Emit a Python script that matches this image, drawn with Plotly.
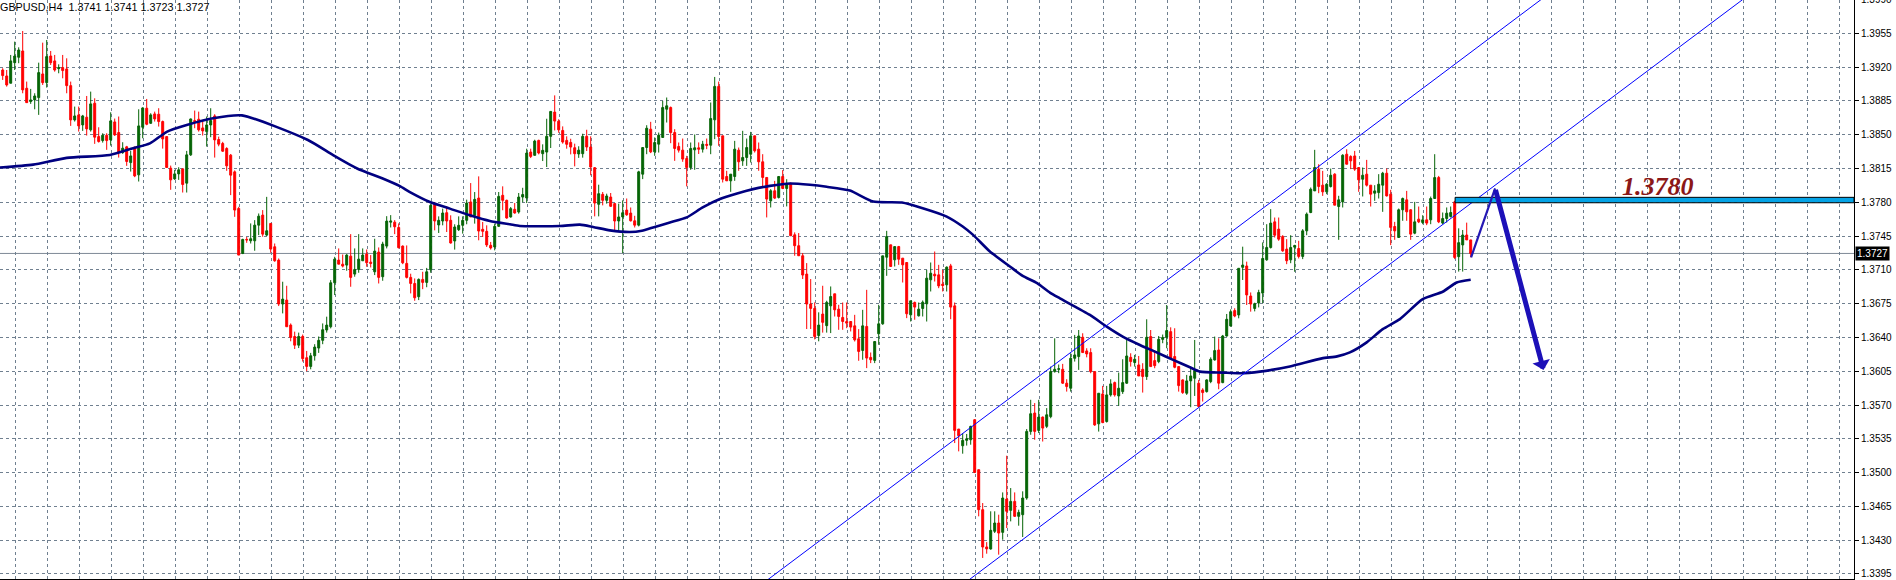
import plotly.graph_objects as go

# ---------------- data (GBPUSD H4 candles) ----------------
opens = [
1.39170,1.39108,1.39033,1.39246,1.39302,1.39367,1.38981,1.38843,1.38860,1.38884,
1.39129,1.39039,1.39315,1.39264,1.39184,1.39195,1.39181,1.39008,1.38653,1.38705,
1.38601,1.38681,1.38550,1.38826,1.38480,1.38439,1.38494,1.38446,1.38632,1.38522,
1.38315,1.38374,1.38211,1.38370,1.38084,1.38577,1.38774,1.38618,1.38715,1.38712,
1.38636,1.38480,1.38153,1.38042,1.38094,1.38146,1.37998,1.38291,1.38646,1.38660,
1.38570,1.38532,1.38601,1.38694,1.38450,1.38409,1.38357,1.38288,1.38115,1.37736,
1.37270,1.37415,1.37401,1.37401,1.37563,1.37667,1.37460,1.37581,1.37339,1.37201,
1.36746,1.36787,1.36528,1.36410,1.36320,1.36410,1.36190,1.36100,1.36210,1.36290,
1.36370,1.36477,1.36511,1.36966,1.37201,1.37159,1.37149,1.37242,1.37056,1.37104,
1.37194,1.37263,1.37180,1.37080,1.37284,1.37029,1.37346,1.37594,1.37594,1.37539,
1.37346,1.37167,1.37022,1.36959,1.36822,1.37001,1.36970,1.37100,1.37779,1.37565,
1.37606,1.37692,1.37613,1.37399,1.37516,1.37561,1.37613,1.37803,1.37665,1.37844,
1.37520,1.37499,1.37354,1.37337,1.37551,1.37872,1.37820,1.37648,1.37727,1.37699,
1.37854,1.37844,1.38320,1.38286,1.38441,1.38303,1.38320,1.38483,1.38734,1.38640,
1.38544,1.38441,1.38420,1.38365,1.38300,1.38303,1.38483,1.38372,1.38158,1.37779,
1.37882,1.37820,1.37854,1.37786,1.37606,1.37648,1.37719,1.37688,1.37608,1.37563,
1.38091,1.38367,1.38557,1.38322,1.38402,1.38471,1.38764,1.38781,1.38522,1.38378,
1.38340,1.38253,1.38160,1.38343,1.38364,1.38350,1.38400,1.38391,1.38654,1.39000,
1.38488,1.38067,1.38022,1.38067,1.38340,1.38229,1.38264,1.38298,1.38488,1.38350,
1.38219,1.38057,1.37815,1.37919,1.37850,1.38067,1.37943,1.37995,1.37463,1.37350,
1.37246,1.37056,1.36746,1.36701,1.36420,1.36642,1.36522,1.36727,1.36852,1.36693,
1.36607,1.36565,1.36565,1.36520,1.36386,1.36265,1.36514,1.36193,1.36162,1.36438,
1.36541,1.37231,1.37359,1.37204,1.37341,1.37221,1.37176,1.36634,1.36762,1.36624,
1.36700,1.36748,1.36997,1.37055,1.37048,1.36952,1.36945,1.37141,1.36727,1.35451,
1.35278,1.35334,1.35340,1.35548,1.35030,1.34616,1.34230,1.34209,1.34392,1.34478,
1.34381,1.34726,1.34609,1.34702,1.34547,1.34564,1.34737,1.35427,1.35617,1.35437,
1.35575,1.35479,1.35580,1.36046,1.36070,1.36070,1.35926,1.35874,1.36184,1.36202,
1.36402,1.36260,1.36243,1.36046,1.35505,1.35815,1.35529,1.35805,1.35932,1.35794,
1.35839,1.35926,1.36194,1.36140,1.36115,1.36070,1.35995,1.36409,1.36160,1.36150,
1.36380,1.36402,1.36460,1.36202,1.36098,1.35960,1.35822,1.35950,1.35977,1.35926,
1.35856,1.35839,1.35943,1.36167,1.36270,1.35932,1.36415,1.36519,1.36678,1.36633,
1.37126,1.37140,1.36829,1.36700,1.36756,1.36859,1.37204,1.37332,1.37597,1.37522,
1.37446,1.37315,1.37204,1.37335,1.37321,1.37239,1.37504,1.37694,1.37918,1.38143,
1.37977,1.37908,1.37963,1.38091,1.37756,1.37804,1.38298,1.38274,1.38280,1.38160,
1.38039,1.38091,1.37977,1.37894,1.37900,1.37977,1.38101,1.37884,1.37549,1.37435,
1.37722,1.37825,1.37722,1.37480,1.37625,1.37590,1.37618,1.37618,1.37839,1.38056,
1.37584,1.37632,1.37653,1.37804,1.37237,1.37358,1.37461,1.37410]

highs = [
1.39188,1.39170,1.39326,1.39464,1.39405,1.39574,1.39050,1.38974,1.38929,1.39246,
1.39453,1.39481,1.39367,1.39326,1.39229,1.39326,1.39291,1.39050,1.38791,1.38791,
1.38705,1.38901,1.38946,1.38877,1.38577,1.38515,1.38515,1.38732,1.38667,1.38688,
1.38422,1.38384,1.38332,1.38377,1.38763,1.38784,1.38870,1.38722,1.38739,1.38774,
1.38646,1.38480,1.38180,1.38136,1.38163,1.38146,1.38332,1.38667,1.38750,1.38739,
1.38646,1.38688,1.38774,1.38712,1.38480,1.38426,1.38370,1.38300,1.38130,1.37753,
1.37422,1.37440,1.37581,1.37615,1.37684,1.37719,1.37856,1.37581,1.37373,1.37218,
1.36977,1.36935,1.36545,1.36460,1.36450,1.36430,1.36260,1.36240,1.36330,1.36410,
1.36545,1.36615,1.36994,1.37235,1.37322,1.37259,1.37263,1.37470,1.37322,1.37470,
1.37322,1.37311,1.37253,1.37422,1.37332,1.37391,1.37656,1.37667,1.37615,1.37581,
1.37353,1.37353,1.37060,1.37011,1.37011,1.37080,1.37120,1.37786,1.37803,1.37654,
1.37734,1.37758,1.37665,1.37572,1.37654,1.37654,1.37827,1.37999,1.37906,1.38068,
1.37596,1.37561,1.37389,1.37579,1.37906,1.37965,1.37827,1.37751,1.37792,1.37896,
1.37950,1.38355,1.38355,1.38448,1.38448,1.38400,1.38665,1.38741,1.38907,1.38660,
1.38586,1.38483,1.38458,1.38407,1.38380,1.38510,1.38551,1.38483,1.38165,1.37982,
1.37906,1.37889,1.37896,1.37792,1.37786,1.37820,1.37839,1.37746,1.37660,1.38126,
1.38367,1.38598,1.38633,1.38471,1.38522,1.38850,1.38885,1.38792,1.38557,1.38419,
1.38460,1.38281,1.38419,1.38502,1.38420,1.38436,1.38460,1.38833,1.39098,1.39050,
1.38488,1.38126,1.38091,1.38436,1.38367,1.38540,1.38460,1.38529,1.38488,1.38419,
1.38298,1.38057,1.37936,1.38022,1.38067,1.38133,1.38039,1.38005,1.37488,1.37481,
1.37274,1.37170,1.37005,1.36763,1.36660,1.36935,1.36780,1.36928,1.36852,1.36738,
1.36762,1.36762,1.36565,1.36634,1.36486,1.36686,1.36893,1.36244,1.36358,1.36738,
1.37245,1.37504,1.37359,1.37341,1.37348,1.37221,1.37176,1.36779,1.36772,1.36762,
1.36783,1.37100,1.37176,1.37290,1.37152,1.37100,1.37135,1.37162,1.36762,1.35451,
1.35410,1.35400,1.35485,1.35554,1.35030,1.34685,1.34280,1.34599,1.34599,1.34564,
1.34795,1.35175,1.34840,1.34795,1.34616,1.34806,1.35451,1.35754,1.35720,1.35754,
1.35581,1.35668,1.36098,1.36391,1.36120,1.36126,1.35967,1.36236,1.36426,1.36477,
1.36443,1.36288,1.36288,1.36046,1.35822,1.35898,1.35898,1.35967,1.35943,1.36036,
1.36174,1.36381,1.36236,1.36219,1.36208,1.36133,1.36588,1.36477,1.36270,1.36415,
1.36430,1.36736,1.36505,1.36495,1.36098,1.35967,1.36012,1.36098,1.36374,1.35960,
1.35874,1.35967,1.36194,1.36409,1.36391,1.36426,1.36643,1.36691,1.36702,1.37116,
1.37340,1.37185,1.36866,1.36760,1.36894,1.37384,1.37573,1.37729,1.37642,1.37642,
1.37459,1.37418,1.37459,1.37360,1.37401,1.37522,1.37694,1.37953,1.38343,1.38194,
1.38125,1.37998,1.38149,1.38101,1.37867,1.38298,1.38349,1.38287,1.38332,1.38160,
1.38160,1.38239,1.37977,1.37977,1.38091,1.38115,1.38149,1.37929,1.37597,1.37735,
1.37849,1.37918,1.37728,1.37804,1.37756,1.37666,1.37756,1.37859,1.38298,1.38073,
1.37694,1.37746,1.37756,1.37815,1.37530,1.37513,1.37589,1.37410]

lows = [
1.39067,1.38998,1.39033,1.39170,1.39240,1.38929,1.38832,1.38819,1.38763,1.38705,
1.39015,1.38988,1.39222,1.39153,1.39136,1.39084,1.38929,1.38591,1.38636,1.38532,
1.38539,1.38491,1.38532,1.38405,1.38418,1.38418,1.38343,1.38387,1.38487,1.38263,
1.38301,1.38177,1.38118,1.38060,1.38015,1.38463,1.38598,1.38612,1.38636,1.38584,
1.38356,1.38160,1.37929,1.38032,1.38032,1.37901,1.37901,1.38280,1.38567,1.38532,
1.38491,1.38377,1.38474,1.38263,1.38380,1.38322,1.38126,1.37874,1.37649,1.37253,
1.37263,1.37380,1.37373,1.37298,1.37460,1.37443,1.37450,1.37277,1.37184,1.36725,
1.36649,1.36511,1.36360,1.36280,1.36290,1.36150,1.36050,1.36070,1.36160,1.36240,
1.36330,1.36450,1.36494,1.36839,1.37159,1.37125,1.37091,1.36925,1.37029,1.37070,
1.37194,1.37132,1.37125,1.37046,1.36959,1.36987,1.37322,1.37539,1.37470,1.37322,
1.37159,1.37011,1.36856,1.36780,1.36787,1.36900,1.36920,1.37070,1.37509,1.37482,
1.37561,1.37492,1.37372,1.37310,1.37502,1.37475,1.37572,1.37648,1.37579,1.37406,
1.37441,1.37337,1.37310,1.37302,1.37544,1.37717,1.37630,1.37641,1.37682,1.37682,
1.37800,1.37792,1.38258,1.38286,1.38296,1.38227,1.38165,1.38362,1.38544,1.38520,
1.38407,1.38355,1.38296,1.38172,1.38260,1.38262,1.38331,1.38079,1.37654,1.37654,
1.37768,1.37786,1.37751,1.37509,1.37509,1.37274,1.37660,1.37601,1.37539,1.37550,
1.38040,1.38298,1.38309,1.38281,1.38315,1.38471,1.38626,1.38412,1.38229,1.38315,
1.38219,1.37964,1.38136,1.38136,1.38300,1.38315,1.38350,1.38298,1.38454,1.38385,
1.38005,1.38022,1.37908,1.38022,1.38126,1.38177,1.38177,1.38212,1.38315,1.38126,
1.37960,1.37643,1.37746,1.37833,1.37839,1.37936,1.37757,1.37453,1.37246,1.37246,
1.37005,1.36487,1.36487,1.36380,1.36360,1.36450,1.36450,1.36445,1.36617,1.36479,
1.36479,1.36496,1.36462,1.36358,1.36158,1.36169,1.36082,1.36134,1.36134,1.36324,
1.36531,1.37038,1.37135,1.37135,1.37152,1.36969,1.36600,1.36565,1.36583,1.36617,
1.36617,1.36565,1.36876,1.36979,1.36910,1.36876,1.36876,1.36589,1.35306,1.35220,
1.35196,1.35280,1.35289,1.34995,1.34547,1.34116,1.34160,1.34202,1.34374,1.34150,
1.34305,1.34426,1.34495,1.34540,1.34450,1.34333,1.34719,1.35392,1.35340,1.35410,
1.35322,1.35461,1.35563,1.36036,1.36030,1.35919,1.35839,1.35839,1.36150,1.36064,
1.36243,1.36194,1.36029,1.35484,1.35425,1.35512,1.35518,1.35787,1.35787,1.35691,
1.35815,1.35919,1.36098,1.36098,1.36001,1.35829,1.35960,1.36098,1.36081,1.36133,
1.36340,1.36288,1.36184,1.36081,1.35839,1.35815,1.35805,1.35677,1.35794,1.35677,
1.35736,1.35829,1.35926,1.36160,1.35863,1.35926,1.36409,1.36512,1.36609,1.36598,
1.36995,1.36736,1.36667,1.36670,1.36711,1.36756,1.37194,1.37321,1.37435,1.37401,
1.37287,1.37159,1.37169,1.37080,1.37218,1.37211,1.37459,1.37687,1.37918,1.37894,
1.37866,1.37884,1.37953,1.37770,1.37411,1.37746,1.38194,1.38143,1.38125,1.37908,
1.37860,1.37963,1.37756,1.37815,1.37839,1.37701,1.37860,1.37356,1.37411,1.37435,
1.37608,1.37608,1.37411,1.37469,1.37584,1.37573,1.37563,1.37573,1.37839,1.37584,
1.37573,1.37590,1.37642,1.37211,1.37082,1.37082,1.37410,1.37230]

closes = [
1.39112,1.39015,1.39264,1.39315,1.39377,1.38964,1.38832,1.38860,1.38901,1.39143,
1.39039,1.39309,1.39246,1.39170,1.39195,1.39164,1.39008,1.38653,1.38694,1.38591,
1.38694,1.38560,1.38819,1.38474,1.38429,1.38494,1.38439,1.38643,1.38498,1.38315,
1.38360,1.38222,1.38280,1.38073,1.38591,1.38777,1.38608,1.38705,1.38663,1.38636,
1.38456,1.38160,1.38032,1.38094,1.38136,1.37984,1.38291,1.38663,1.38636,1.38550,
1.38539,1.38601,1.38646,1.38446,1.38402,1.38329,1.38177,1.38081,1.37719,1.37253,
1.37415,1.37410,1.37422,1.37563,1.37656,1.37470,1.37505,1.37315,1.37194,1.36746,
1.36797,1.36511,1.36400,1.36320,1.36410,1.36180,1.36100,1.36210,1.36300,1.36370,
1.36480,1.36528,1.36966,1.37211,1.37159,1.37139,1.37253,1.37022,1.37104,1.37211,
1.37253,1.37173,1.37167,1.37294,1.37022,1.37367,1.37605,1.37605,1.37546,1.37329,
1.37173,1.37022,1.36959,1.36811,1.37001,1.36970,1.37080,1.37768,1.37606,1.37613,
1.37689,1.37606,1.37378,1.37544,1.37561,1.37613,1.37792,1.37648,1.37830,1.37502,
1.37499,1.37358,1.37327,1.37551,1.37861,1.37820,1.37637,1.37734,1.37689,1.37854,
1.37880,1.38310,1.38275,1.38434,1.38310,1.38338,1.38483,1.38741,1.38641,1.38550,
1.38424,1.38400,1.38372,1.38303,1.38340,1.38483,1.38372,1.38165,1.37792,1.37889,
1.37820,1.37865,1.37758,1.37606,1.37648,1.37692,1.37670,1.37608,1.37563,1.38115,
1.38367,1.38567,1.38322,1.38419,1.38495,1.38781,1.38799,1.38522,1.38357,1.38340,
1.38247,1.38160,1.38357,1.38364,1.38350,1.38402,1.38390,1.38667,1.39000,1.38481,
1.38039,1.38022,1.38091,1.38350,1.38219,1.38264,1.38367,1.38488,1.38333,1.38219,
1.38057,1.37833,1.37919,1.37843,1.38067,1.37943,1.37988,1.37453,1.37350,1.37246,
1.37046,1.36746,1.36701,1.36410,1.36528,1.36556,1.36763,1.36824,1.36686,1.36617,
1.36565,1.36548,1.36507,1.36375,1.36255,1.36520,1.36186,1.36169,1.36358,1.36541,
1.37245,1.37445,1.37135,1.37341,1.37210,1.37152,1.36645,1.36779,1.36714,1.36693,
1.36765,1.37014,1.37065,1.37038,1.36934,1.36938,1.37128,1.36714,1.35437,1.35382,
1.35334,1.35350,1.35479,1.35002,1.34616,1.34229,1.34210,1.34402,1.34478,1.34374,
1.34737,1.34599,1.34702,1.34547,1.34588,1.34737,1.35427,1.35610,1.35427,1.35575,
1.35461,1.35599,1.36046,1.36070,1.36075,1.35926,1.35891,1.36184,1.36219,1.36415,
1.36243,1.36229,1.36046,1.35494,1.35822,1.35518,1.35805,1.35919,1.35805,1.35874,
1.35932,1.36208,1.36150,1.36174,1.36001,1.35995,1.36402,1.36098,1.36108,1.36381,
1.36400,1.36471,1.36184,1.36091,1.35901,1.35829,1.35950,1.36001,1.36057,1.35684,
1.35829,1.35960,1.36174,1.36264,1.35926,1.36415,1.36588,1.36667,1.36622,1.37116,
1.37150,1.36840,1.36746,1.36750,1.36866,1.37218,1.37332,1.37584,1.37459,1.37418,
1.37297,1.37194,1.37332,1.37352,1.37239,1.37504,1.37677,1.37935,1.38160,1.37963,
1.37908,1.37987,1.38080,1.37770,1.37825,1.38287,1.38194,1.38229,1.38143,1.38032,
1.38080,1.37977,1.37884,1.37918,1.37987,1.38101,1.37866,1.37539,1.37504,1.37722,
1.37839,1.37701,1.37470,1.37597,1.37597,1.37618,1.37584,1.37839,1.38056,1.37597,
1.37632,1.37687,1.37694,1.37228,1.37382,1.37461,1.37410,1.37270]

# moving average (sampled along the curve: bar index, price)
ma_index = [-0.7, 7.6, 16, 26.8, 32.6, 36.8, 41, 46, 52.6, 59.8, 76.3, 82.6, 88.6, 95,
            99.3, 101.8, 106.8, 111.8, 116.8, 121.8, 126.8, 129.3, 139.3, 144.3, 147.6,
            151.8, 156.8, 159.8, 162.6, 166.8, 171, 175, 179.3, 183.6, 187.6, 191.8,
            196.8, 201.8, 206, 211.8, 217.6, 224.8, 230, 236, 240, 242.6, 246.8, 251.8,
            255, 258.6, 261.8, 264.3, 271.8, 276, 280, 284.3, 288.6, 292.6, 296.8,
            299.3, 305, 309.3, 314.3, 321.8, 329.8, 333.6, 336.8, 341, 345, 349.3,
            355, 360, 363.5, 367]
ma_value = [1.38160, 1.38190, 1.38260, 1.38290, 1.38360, 1.38410, 1.38530, 1.38600,
            1.38670, 1.38700, 1.38445, 1.38288, 1.38150, 1.38046, 1.37967, 1.37906,
            1.37803, 1.37734, 1.37665, 1.37606, 1.37572, 1.37554, 1.37554, 1.37568,
            1.37544, 1.37509, 1.37492, 1.37505, 1.37539, 1.37591, 1.37643, 1.37746,
            1.37833, 1.37891, 1.37936, 1.37970, 1.37995, 1.37981, 1.37960, 1.37921,
            1.37807, 1.37797, 1.37738, 1.37652, 1.37549, 1.37462, 1.37290, 1.37135,
            1.37038, 1.36962, 1.36865, 1.36805, 1.36633, 1.36512, 1.36409, 1.36322,
            1.36243, 1.36167, 1.36091, 1.36046, 1.36036, 1.36029, 1.36046, 1.36100,
            1.36183, 1.36204, 1.36245, 1.36349, 1.36486, 1.36590, 1.36797, 1.36873,
            1.36969, 1.36997]

# drawn objects: price channel (bar index, price), level, forecast path
channel_upper = ([191.25, 384.6], [1.33890, 1.39900])
channel_lower = ([241.6, 435.0], [1.33890, 1.39900])
level_price = 1.3780
level_band = (1.37795, 1.37851)
level_start = 363.1
level_label_pos = (413.8, 1.37961)
path_up = ([367.1, 373.1], [1.37230, 1.37945])
path_down = ([373.1, 385.2], [1.37945, 1.36063])
last_price = 1.3727
title_text = "GBPUSD,H4  1.3741 1.3741 1.3723 1.3727"
top_cut_label = "1.3990"

y_ticks = [1.3395 + 0.0035 * k for k in range(17)]
y_range = [1.33898, 1.39895]
x_range = [-0.675, 462.825]
v_grid = [3.075 + 8 * k for k in range(58)]

GRID = "#708090"
UP = "#066406"
DOWN = "#FF0000"

fig = go.Figure()

fig.add_trace(go.Candlestick(
    x=list(range(len(opens))), open=opens, high=highs, low=lows, close=closes,
    increasing=dict(line=dict(color=UP, width=1), fillcolor=UP),
    decreasing=dict(line=dict(color=DOWN, width=1), fillcolor=DOWN),
    whiskerwidth=0, hoverinfo="skip", showlegend=False))

fig.add_trace(go.Scatter(
    x=ma_index, y=ma_value, mode="lines",
    line=dict(color="#000080", width=2.6, shape="spline", smoothing=0.6),
    hoverinfo="skip", showlegend=False))

shapes = []
# current price line
shapes.append(dict(type="line", xref="x", yref="y", x0=x_range[0], x1=x_range[1],
                   y0=last_price, y1=last_price, line=dict(color="#7F8A96", width=1),
                   layer="below"))
# channel
for xs, ys in (channel_upper, channel_lower):
    shapes.append(dict(type="line", xref="x", yref="y", x0=xs[0], x1=xs[1],
                       y0=ys[0], y1=ys[1], line=dict(color="#0000FF", width=1)))
# level band
shapes.append(dict(type="rect", xref="x", yref="y", x0=level_start, x1=x_range[1],
                   y0=level_band[0], y1=level_band[1], fillcolor="#04A3E6",
                   line=dict(color="#000000", width=1)))
# forecast up-leg
shapes.append(dict(type="line", xref="x", yref="y", x0=path_up[0][0], x1=path_up[0][1],
                   y0=path_up[1][0], y1=path_up[1][1],
                   line=dict(color="#2418B4", width=2.2)))

annotations = [
    dict(xref="paper", yref="paper", x=0, y=1, xanchor="left", yanchor="top",
         xshift=-2, yshift=1, text=title_text, showarrow=False,
         font=dict(family="Liberation Sans", size=10.8, color="#000000")),
    dict(xref="x", yref="y", x=level_label_pos[0], y=level_label_pos[1],
         text="<b><i>1.3780</i></b>", showarrow=False,
         font=dict(family="Liberation Serif", size=26, color="#8B1818")),
    dict(xref="x", yref="y", x=path_down[0][1], y=path_down[1][1],
         axref="x", ayref="y", ax=path_down[0][0], ay=path_down[1][0],
         text="", showarrow=True, arrowhead=1, arrowsize=0.6, arrowwidth=5,
         arrowcolor="#1C10B8", standoff=0, startstandoff=0),
    dict(xref="paper", yref="y", x=1, y=last_price, xanchor="left", yanchor="middle",
         xshift=1, text="1.3727", showarrow=False, bgcolor="#000000",
         borderpad=1, font=dict(family="Liberation Sans", size=10, color="#FFFFFF")),
    dict(xref="paper", yref="paper", x=1, y=1, xanchor="left", yanchor="middle",
         xshift=5, yshift=1, text=top_cut_label, showarrow=False,
         font=dict(family="Liberation Sans", size=10, color="#000000")),
]

fig.update_layout(
    width=1896, height=580, autosize=False,
    margin=dict(l=0, r=42, t=0, b=1, pad=0),
    paper_bgcolor="#FFFFFF", plot_bgcolor="#FFFFFF",
    showlegend=False, shapes=shapes, annotations=annotations,
    boxgap=0.3,
    xaxis=dict(type="linear", range=x_range, rangeslider=dict(visible=False),
               tickmode="array", tickvals=v_grid, showticklabels=False, ticks="",
               showgrid=True, gridcolor=GRID, gridwidth=1, griddash="3px,3px",
               zeroline=False, showline=True, linecolor="#000000", linewidth=1,
               fixedrange=True),
    yaxis=dict(side="right", range=y_range, tickmode="array", tickvals=y_ticks,
               ticktext=[f"{v:.4f}" for v in y_ticks],
               showgrid=True, gridcolor=GRID, gridwidth=1, griddash="3px,3px",
               zeroline=False, showline=True, linecolor="#000000", linewidth=1,
               ticks="outside", ticklen=4, tickcolor="#000000",
               tickfont=dict(family="Liberation Sans", size=10, color="#000000"),
               automargin=False, fixedrange=True),
)

fig.write_html("out.html", config={"displayModeBar": False},
               post_script="document.body.style.margin='0';document.body.style.overflow='hidden';")
